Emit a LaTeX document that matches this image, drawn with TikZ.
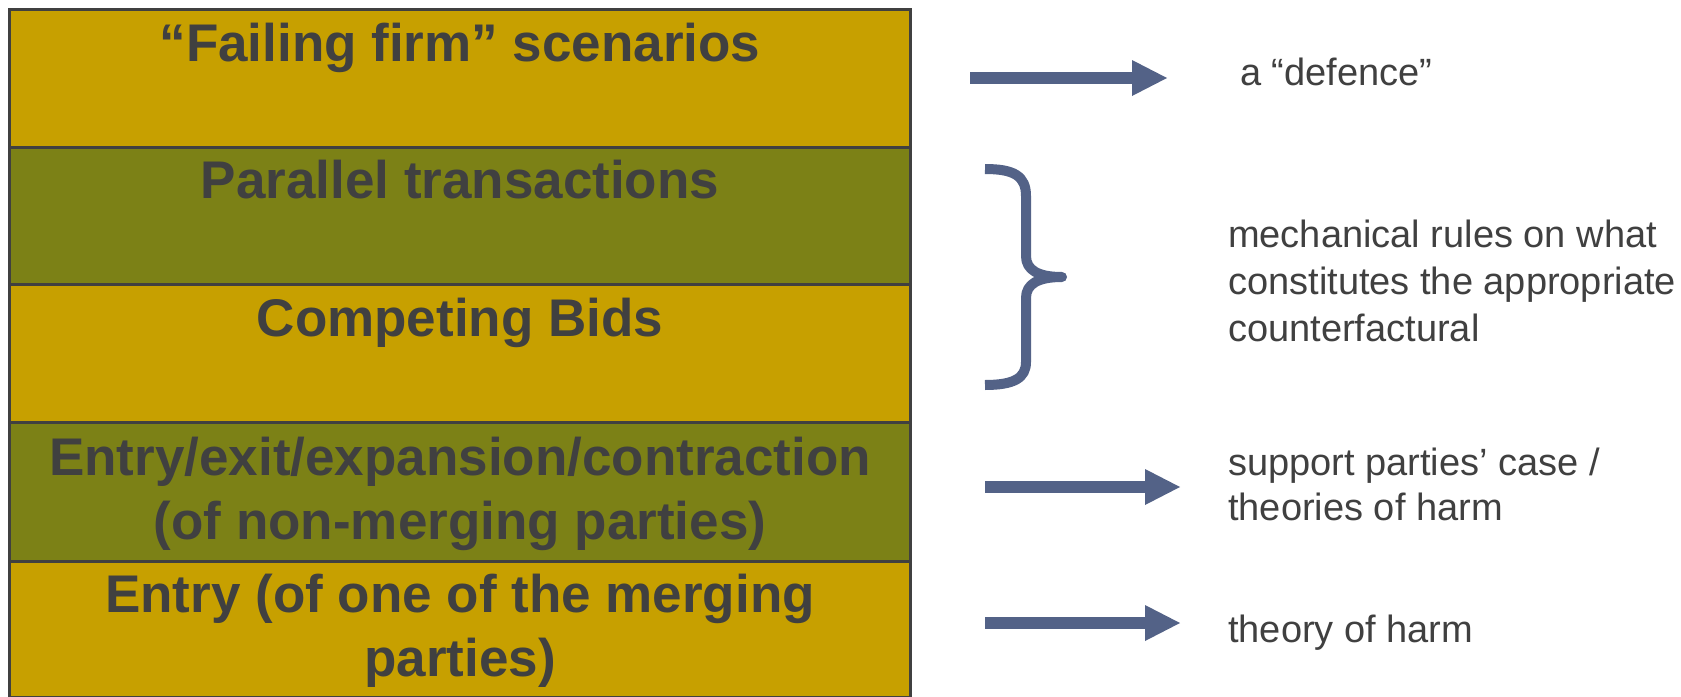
\documentclass[tikz,border=0pt]{standalone}
\usepackage{fontspec}
\setmainfont{Liberation Sans}
\usetikzlibrary{arrows.meta}
\definecolor{gold}{RGB}{199,160,0}
\definecolor{olive}{RGB}{124,129,22}
\definecolor{edge}{RGB}{64,64,64}
\definecolor{txt}{RGB}{64,64,64}
\definecolor{arrowc}{RGB}{83,98,135}
\begin{document}
\begin{tikzpicture}[x=1pt,y=-1pt,
 band/.style={draw=edge,line width=3pt},
 bandtext/.style={anchor=north,inner sep=0pt,align=center,text=txt,font=\fontsize{53}{64}\selectfont\bfseries},
 note/.style={inner sep=0pt,align=left,text=txt,font=\fontsize{38}{44}\selectfont},
 bigarrow/.style={draw=arrowc,line width=12pt,-{Triangle[length=35pt,width=36pt,line width=0pt]}},
 bracestyle/.style={draw=arrowc,line width=10pt,line join=round}
]
\useasboundingbox (0,0) rectangle (1681,696);
\fill[white] (0,0) rectangle (1681,696);
% stacked bands
\path[band,fill=gold]  (9,9)   rectangle (910,147);
\path[band,fill=olive] (9,147) rectangle (910,284);
\path[band,fill=gold]  (9,284) rectangle (910,422);
\path[band,fill=olive] (9,422) rectangle (910,561);
\path[band,fill=gold]  (9,561) rectangle (910,697);
% band texts
\node[bandtext] (t1) at (460,16.2) {\strut “Failing firm” scenarios};
\node[bandtext] (t2) at (460,153.2) {\strut Parallel transactions};
\node[bandtext] (t3) at (460,291.2) {\strut Competing Bids};
\node[bandtext] (t4) at (460,430.2) {\strut Entry/exit/expansion/contraction\\\strut (of non-merging parties)};
\node[bandtext] (t5) at (460,567.2) {\strut Entry (of one of the merging\\\strut parties)};
% notes
\node[note,anchor=base west] (n1) at (1240,85) {a “defence”};
\node[note,anchor=north west,font=\fontsize{38}{47}\selectfont] (n2) at (1228,214.1) {\strut mechanical rules on what\\\strut constitutes the appropriate\\\strut counterfactural};
\node[note,anchor=north west,font=\fontsize{38}{45}\selectfont] (n3) at (1228,443.5) {\strut support parties’ case /\\\strut theories of harm};
\node[note,anchor=base west] (n4) at (1228,642) {theory of harm};
% arrows
\coordinate (a1s) at (970,78);  \coordinate (a1e) at (1167,78);
\coordinate (a2s) at (985,487); \coordinate (a2e) at (1180,487);
\coordinate (a3s) at (985,623); \coordinate (a3e) at (1180,623);
\draw[bigarrow] (a1s) -- (a1e);
\draw[bigarrow] (a2s) -- (a2e);
\draw[bigarrow] (a3s) -- (a3e);
% brace
\draw[bracestyle] (985,169) .. controls (1014,169) and (1026,176) .. (1026,196)
  -- (1026,256) .. controls (1026,270) and (1038,277) .. (1062,277)
  .. controls (1038,277) and (1026,284) .. (1026,298)
  -- (1026,362) .. controls (1026,378) and (1014,385) .. (985,385);
\end{tikzpicture}
\end{document}
